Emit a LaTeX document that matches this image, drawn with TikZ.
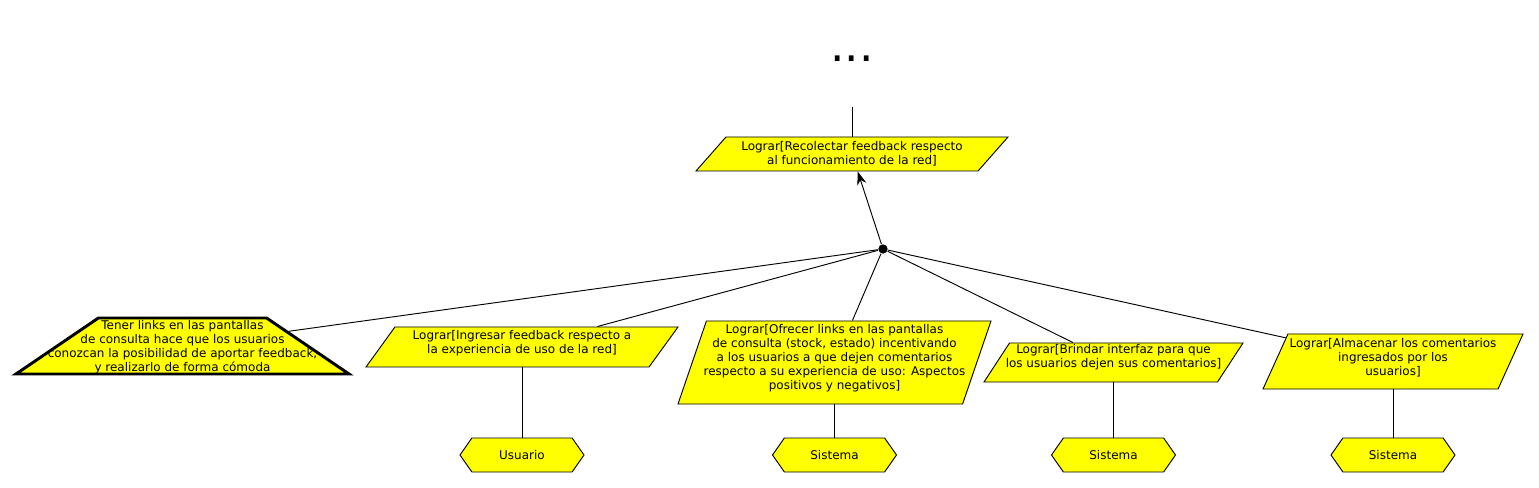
\documentclass[tikz,border=0pt]{standalone}
\usepackage{fontspec}
\setmainfont{DejaVu Sans}
\usetikzlibrary{shapes.geometric,shapes.symbols,arrows.meta}

\definecolor{goalyellow}{RGB}{255,255,0}

\tikzset{
  goal/.style n args={4}{draw, fill=goalyellow, line width=0.7pt, trapezium,
    trapezium stretches body=true, inner sep=0pt, text depth=0pt,
    minimum width=#1, text height=#2,
    trapezium left angle=#3, trapezium right angle=#4},
  goaltext/.style={align=center, inner sep=0pt,
    font=\fontsize{9pt}{10.5pt}\selectfont},
  agent/.style={draw, fill=goalyellow, line width=0.7pt, signal,
    signal to=west and east, signal pointer angle=110,
    minimum width=93pt, minimum height=25.5pt, inner sep=0pt,
    font=\fontsize{9pt}{10.5pt}\selectfont},
  junction/.style={circle, fill, inner sep=0pt, minimum size=7pt},
}

\begin{document}
\begin{tikzpicture}[x=0.75pt, y=-0.75pt, line width=0.7pt]
  \useasboundingbox (0,0) rectangle (1539,488);

  % parent goal
  \node[font=\fontsize{34pt}{34pt}\selectfont, anchor=base] (more) at (852,62) {...};
  \coordinate (more-end) at (852,107);
  \node[goal={234pt}{25.5pt}{48.6}{131.4}] (recolectar) at (852,154) {};
  \node[goaltext] (recolectar-txt) at (recolectar)
    {Lograr[Recolectar feedback respecto\\al funcionamiento de la red]};
  \draw (more-end) -- (recolectar.north);

  % refinement
  \node[junction] (junction) at (883,249) {};
  \draw[-{Stealth[length=10pt,width=7pt]}] (junction) -- (recolectar);

  % subgoals
  \node[goal={249.75pt}{42pt}{34.2}{34.2}, line width=2.2pt] (tener) at (182.5,346) {};
  \node[goaltext, yshift=-1pt] (tener-txt) at (tener)
    {Tener links en las pantallas\\de consulta hace que los usuarios\\conozcan la posibilidad de aportar feedback,\\y realizarlo de forma cómoda};
  \node[goal={234pt}{30pt}{54.1}{125.9}] (ingresar) at (522,347) {};
  \node[goaltext, yshift=3pt] (ingresar-txt) at (ingresar)
    {Lograr[Ingresar feedback respecto a\\la experiencia de uso de la red]};
  \node[goal={234.75pt}{62.25pt}{71.1}{108.9}] (ofrecer) at (834.5,362.5) {};
  \node[goaltext, yshift=3pt] (ofrecer-txt) at (ofrecer)
    {Lograr[Ofrecer links en las pantallas\\de consulta (stock, estado) incentivando\\a los usuarios a que dejen comentarios\\respecto a su experiencia de uso: Aspectos\\positivos y negativos]};
  \node[goal={194.25pt}{29.25pt}{56.8}{123.2}] (brindar) at (1113.5,362.5) {};
  \node[goaltext, yshift=4pt] (brindar-txt) at (brindar)
    {Lograr[Brindar interfaz para que\\los usuarios dejen sus comentarios]};
  \node[goal={195pt}{41.25pt}{65.6}{114.4}] (almacenar) at (1393,361.5) {};
  \node[goaltext, yshift=3pt] (almacenar-txt) at (almacenar)
    {Lograr[Almacenar los comentarios\\ingresados por los\\usuarios]};

  \foreach \goal in {tener,ingresar,ofrecer,brindar,almacenar}
    \draw (junction) -- (\goal);

  % agents
  \foreach \goal/\who/\name in {ingresar/Usuario/usuario, ofrecer/Sistema/sistema-a,
      brindar/Sistema/sistema-b, almacenar/Sistema/sistema-c} {
    \node[agent] (\name) at (\goal |- 0,455) {\who};
    \draw (\name.north) -- (\name.north |- \goal.south);
  }
\end{tikzpicture}
\end{document}
